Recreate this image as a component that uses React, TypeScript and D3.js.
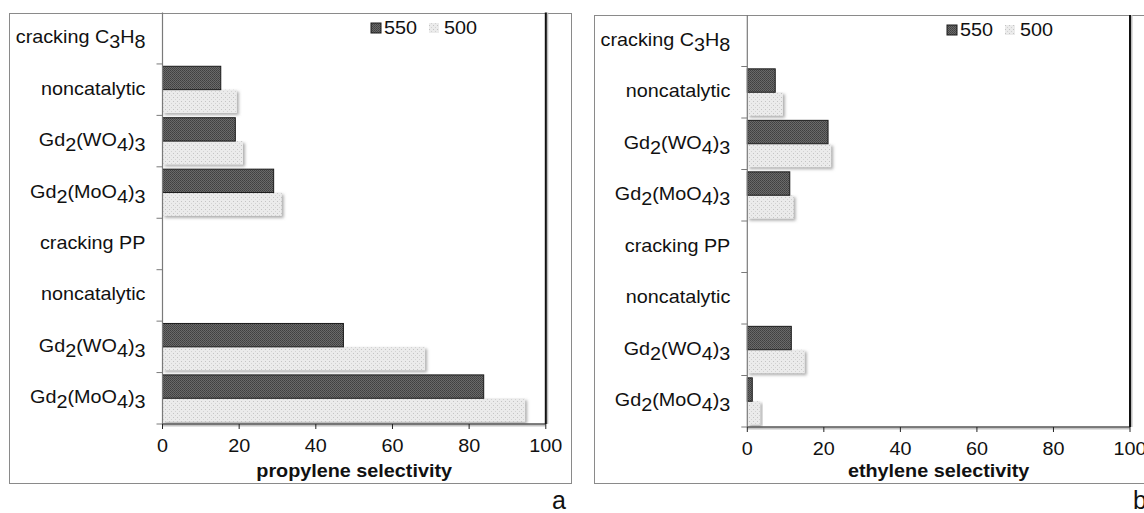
import React from "react";
import * as d3 from "d3";

const categories = [
  "cracking C_3H_8",
  "noncatalytic",
  "Gd_2(WO_4)_3",
  "Gd_2(MoO_4)_3",
  "cracking PP",
  "noncatalytic",
  "Gd_2(WO_4)_3",
  "Gd_2(MoO_4)_3",
];
const seriesNames = ["550", "500"];
const propylene550 = [null, 15.2, 19.0, 29.0, null, null, 47.2, 83.8];
const propylene500 = [null, 19.4, 21.0, 31.1, null, null, 68.5, 94.6];
const ethylene550 = [null, 7.3, 21.1, 11.1, null, null, 11.5, 1.3];
const ethylene500 = [null, 9.3, 21.9, 12.1, null, null, 15.0, 3.4];
const xTicks = [0, 20, 40, 60, 80, 100];

const FONT = "'Liberation Sans', Arial, Helvetica, sans-serif";
const SX = 1.1;

function Label({ text, x, y, anchor = "end", size = 18, weight = "normal" }) {
  const parts = text.split(/_(\d)/);
  return (
    <text
      transform={`translate(${x},${y}) scale(${SX},1)`}
      textAnchor={anchor}
      fontFamily={FONT}
      fontSize={size}
      fontWeight={weight}
      fill="#111"
    >
      {parts.map((p, i) =>
        i % 2 === 1 ? (
          <tspan key={i} dy={5}>
            {p}
          </tspan>
        ) : (
          <tspan key={i} dy={i === 0 ? 0 : -5}>
            {p}
          </tspan>
        )
      )}
    </text>
  );
}

function Panel({ frame, plot, s550, s500, title, legendX, legendY, caption, captionX }) {
  const x = d3.scaleLinear().domain([0, 100]).range([plot.x0, plot.x1]);
  const idx = categories.map((_, i) => String(i));
  const y = d3.scaleBand().domain(idx).range([plot.y0, plot.y1]).paddingInner(0).paddingOuter(0);
  const inner = d3
    .scaleBand()
    .domain(seriesNames)
    .range([0, y.bandwidth()])
    .paddingInner(0)
    .paddingOuter(0.1);
  const bands = y.domain().map((d) => y(d));
  return (
    <g>
      <rect x={frame.x} y={frame.y} width={frame.w} height={frame.h} fill="#fff" stroke="#8a8a8a" strokeWidth={1} />
      {categories.map((c, i) => {
        const by = y(String(i));
        const v5 = s550[i];
        const v0 = s500[i];
        return (
          <g key={i}>
            {v0 != null && (
              <rect
                x={x(0)}
                y={by + inner("500")}
                width={x(v0) - x(0)}
                height={inner.bandwidth()}
                fill="url(#lightPat)"
                filter="url(#shadow)"
              />
            )}
            {v5 != null && (
              <rect
                x={x(0)}
                y={by + inner("550")}
                width={x(v5) - x(0)}
                height={inner.bandwidth()}
                fill="url(#darkPat)"
                stroke="#1a1a1a"
                strokeWidth={1}
              />
            )}
          </g>
        );
      })}
      <line x1={plot.x0} x2={plot.x0} y1={plot.y0} y2={plot.y1} stroke="#7a7a7a" strokeWidth={1.2} />
      {bands.slice(1).concat([plot.y1]).map((b, i) => (
        <line key={i} x1={plot.x0 - 6} x2={plot.x0} y1={b} y2={b} stroke="#7a7a7a" strokeWidth={1} />
      ))}
      <line x1={plot.x0} x2={plot.x1} y1={plot.y1 + 1.5} y2={plot.y1 + 1.5} stroke="#c4c4c4" strokeWidth={2} />
      <line x1={plot.x0} x2={plot.x1} y1={plot.y1} y2={plot.y1} stroke="#555" strokeWidth={1.5} />
      <line x1={plot.x1 + 1.5} x2={plot.x1 + 1.5} y1={plot.y0} y2={plot.y1} stroke="#bdbdbd" strokeWidth={2} />
      <line x1={plot.x1} x2={plot.x1} y1={plot.y0} y2={plot.y1} stroke="#111" strokeWidth={2} />
      {xTicks.map((t) => (
        <g key={t}>
          <line x1={x(t)} x2={x(t)} y1={plot.y1} y2={plot.y1 + 5} stroke="#222" strokeWidth={1} />
          <Label text={String(t)} x={x(t)} y={plot.y1 + 28} anchor="middle" size={18} />
        </g>
      ))}
      {categories.map((c, i) => (
        <Label key={i} text={c} x={plot.x0 - 17} y={y(String(i)) + y.bandwidth() / 2 + 5} anchor="end" size={18} />
      ))}
      <Label text={title} x={(plot.x0 + plot.x1) / 2} y={477} anchor="middle" size={18} weight="bold" />
      <rect x={legendX} y={legendY - 5} width={10} height={10} fill="url(#darkPat)" stroke="#1a1a1a" strokeWidth={1} />
      <Label text={seriesNames[0]} x={legendX + 13} y={legendY + 6} anchor="start" size={18} />
      <rect x={legendX + 58} y={legendY - 5} width={10} height={10} fill="url(#lightPat)" />
      <Label text={seriesNames[1]} x={legendX + 73} y={legendY + 6} anchor="start" size={18} />
      <text x={captionX} y={509} textAnchor="middle" fontFamily={FONT} fontSize={25} fill="#111">
        {caption}
      </text>
    </g>
  );
}

export default function App() {
  return (
    <svg
      width={1144}
      height={513}
      style={{ position: "absolute", left: 0, top: 0, background: "#fff" }}
    >
      <defs>
        <pattern id="darkPat" width={2} height={2} patternUnits="userSpaceOnUse">
          <rect width={2} height={2} fill="#6a6a6a" />
          <rect width={1} height={1} fill="#404040" />
          <rect x={1} y={1} width={1} height={1} fill="#484848" />
        </pattern>
        <pattern id="lightPat" width={4} height={4} patternUnits="userSpaceOnUse">
          <rect width={4} height={4} fill="#ebebeb" />
          <rect x={1} y={1} width={1} height={1} fill="#c4c4c4" />
          <rect x={3} y={3} width={1} height={1} fill="#d2d2d2" />
        </pattern>
        <filter id="shadow" x="-10%" y="-20%" width="130%" height="160%">
          <feDropShadow dx={2} dy={2} stdDeviation={1.5} floodColor="#777" floodOpacity={0.6} />
        </filter>
      </defs>
      <Panel
        frame={{ x: 9.5, y: 13.5, w: 562, h: 470 }}
        plot={{ x0: 162.5, x1: 545.8, y0: 12.5, y1: 424 }}
        s550={propylene550}
        s500={propylene500}
        title="propylene selectivity"
        legendX={371}
        legendY={28}
        caption="a"
        captionX={559}
      />
      <Panel
        frame={{ x: 594.5, y: 15.5, w: 600, h: 468 }}
        plot={{ x0: 747.3, x1: 1130, y0: 15, y1: 427 }}
        s550={ethylene550}
        s500={ethylene500}
        title="ethylene selectivity"
        legendX={947}
        legendY={30}
        caption="b"
        captionX={1140}
      />
    </svg>
  );
}
